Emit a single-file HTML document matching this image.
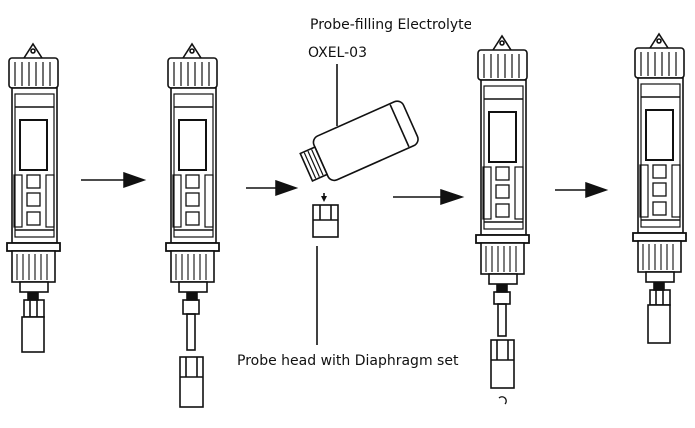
<!DOCTYPE html>
<html><head><style>
html,body{margin:0;padding:0;background:#fff;width:695px;height:428px;overflow:hidden}
svg{display:block}
text{font-family:"DejaVu Sans","Liberation Sans",sans-serif;fill:#111}
</style></head><body>
<svg width="695" height="428" viewBox="0 0 695 428" xmlns="http://www.w3.org/2000/svg">
<defs>
<clipPath id="tc"><rect x="300" y="0" width="171" height="40"/></clipPath>
<g id="pen" fill="none" stroke="#111" stroke-width="1.6">
  <path d="M24 58 L33 44 L42 58" fill="#fff"/>
  <circle cx="33" cy="51" r="2"/>
  <rect x="9" y="58" width="49" height="30" rx="3" fill="#fff"/>
  <path d="M15 62V86M22 62V86M29 62V86M36 62V86M43 62V86M50 62V86" stroke-width="1.2"/>
  <rect x="12" y="88" width="45" height="155" fill="#fff"/>
  <rect x="15" y="94" width="39" height="143" stroke-width="1.2"/>
  <line x1="15" y1="107" x2="54" y2="107"/>
  <rect x="20" y="120" width="27" height="50" stroke-width="2"/>
  <rect x="14" y="175" width="8" height="52" stroke-width="1.2"/>
  <rect x="46" y="175" width="8" height="52" stroke-width="1.2"/>
  <rect x="27" y="175" width="13" height="13" stroke-width="1.3"/>
  <rect x="27" y="193" width="13" height="13" stroke-width="1.3"/>
  <rect x="27" y="212" width="13" height="13" stroke-width="1.3"/>
  <line x1="15" y1="230" x2="54" y2="230"/>
  <rect x="7" y="243" width="53" height="8" fill="#fff" stroke-width="1.8"/>
  <rect x="12" y="251" width="43" height="31" fill="#fff"/>
  <path d="M17 254V280M23 254V280M29 254V280M35 254V280M41 254V280M47 254V280" stroke-width="1.1"/>
  <rect x="20" y="282" width="28" height="10" fill="#fff"/>
  <rect x="28" y="293" width="10" height="7" fill="#111"/>
</g>
</defs>
<use href="#pen"/>
<g fill="none" stroke="#111" stroke-width="1.6">
  <rect x="24" y="300" width="20" height="17"/>
  <rect x="22" y="317" width="22" height="35" fill="#fff"/>
  <line x1="30" y1="300" x2="30" y2="317"/><line x1="37" y1="300" x2="37" y2="317"/>
</g>
<use href="#pen" transform="translate(159,0)"/>
<g fill="none" stroke="#111" stroke-width="1.6">
  <rect x="183" y="300" width="16" height="14"/>
  <rect x="187" y="314" width="8" height="36"/>
  <rect x="180" y="357" width="23" height="50"/>
  <line x1="180" y1="377" x2="203" y2="377"/>
  <line x1="186" y1="357" x2="186" y2="377"/><line x1="197" y1="357" x2="197" y2="377"/>
</g>
<use href="#pen" transform="translate(469,-8)"/>
<g fill="none" stroke="#111" stroke-width="1.6">
  <rect x="494" y="292" width="16" height="12"/>
  <rect x="498" y="304" width="8" height="32"/>
  <rect x="491" y="340" width="23" height="48"/>
  <line x1="491" y1="360" x2="514" y2="360"/>
  <line x1="497" y1="340" x2="497" y2="360"/><line x1="508" y1="340" x2="508" y2="360"/>
  <path d="M499 398 A4 4 0 1 1 505 404" stroke-width="1.3"/>
</g>
<use href="#pen" transform="translate(626,-10)"/>
<g fill="none" stroke="#111" stroke-width="1.6">
  <rect x="650" y="290" width="20" height="15"/>
  <rect x="648" y="305" width="22" height="38" fill="#fff"/>
  <line x1="656" y1="290" x2="656" y2="305"/><line x1="663" y1="290" x2="663" y2="305"/>
</g>
<g stroke="#111" stroke-width="1.5" fill="#111">
  <line x1="81" y1="180" x2="128" y2="180"/><path d="M124 173 L144 180 L124 187Z"/>
  <line x1="246" y1="188" x2="280" y2="188"/><path d="M276 181 L296 188 L276 195Z"/>
  <line x1="393" y1="197" x2="445" y2="197"/><path d="M441 190 L462 197 L441 204Z"/>
  <line x1="555" y1="190" x2="590" y2="190"/><path d="M586 183 L606 190 L586 197Z"/>
</g>
<g fill="none" stroke="#111" stroke-width="1.6">
  <g transform="translate(363,142) rotate(-24)">
    <rect x="-46" y="-24" width="98" height="48" rx="7" fill="#fff"/>
    <line x1="40" y1="-23" x2="40" y2="23"/>
    <rect x="-62" y="-15" width="16" height="30" fill="#fff"/>
    <path d="M-58 -14V14M-54 -14V14M-50 -14V14" stroke-width="1.2"/>
  </g>
  <line x1="337" y1="64" x2="337" y2="126"/>
  <line x1="317" y1="246" x2="317" y2="345"/>
  <rect x="313" y="205" width="25" height="32" fill="#fff"/>
  <line x1="313" y1="220" x2="338" y2="220"/>
  <line x1="320" y1="205" x2="320" y2="220"/><line x1="331" y1="205" x2="331" y2="220"/>
  <line x1="324" y1="193" x2="324" y2="200"/>
</g>
<path d="M321 196 L327 196 L324 202Z" fill="#111"/>
<text x="310" y="29" font-size="14" clip-path="url(#tc)">Probe-filling Electrolyte</text>
<text x="308" y="57" font-size="14">OXEL-03</text>
<text x="237" y="365" font-size="14">Probe head with Diaphragm set</text>
</svg>
</body></html>
